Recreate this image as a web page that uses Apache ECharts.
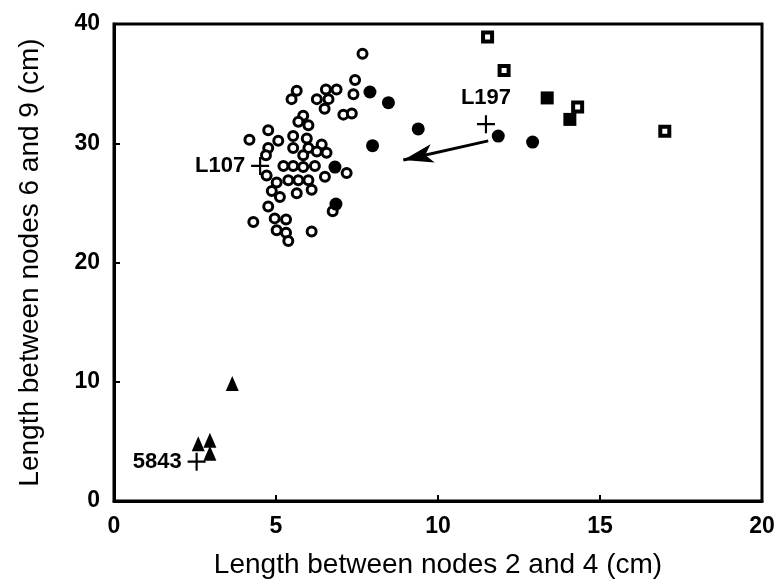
<!DOCTYPE html>
<html><head><meta charset="utf-8">
<script src="https://cdn.jsdelivr.net/npm/echarts@6/dist/echarts.min.js"></script>
<style>html,body{margin:0;padding:0;background:#fff}#c{width:781px;height:584px}</style>
</head><body><div id="c"></div>
<script>
const xTitle = 'Length between nodes 2 and 4 (cm)';
const yTitle = 'Length between nodes 6 and 9 (cm)';
const xRange = [0, 20, 5];
const yRange = [0, 40, 10];

const openCircles = [
  [7.67,37.5],[7.44,35.3],[7.39,34.1],[6.54,34.5],[6.87,34.5],[6.26,33.7],[6.62,33.7],
  [6.50,32.9],[7.08,32.4],[7.34,32.5],[5.64,34.4],[5.48,33.7],[5.84,32.3],[5.69,31.8],
  [6.00,31.5],[4.76,31.1],[4.18,30.3],[5.07,30.2],[4.76,29.6],[4.69,29.0],[5.53,30.6],
  [5.53,29.6],[5.95,30.4],[6.00,29.6],[6.41,29.9],[6.56,29.2],[6.26,29.3],[5.84,29.0],
  [5.23,28.1],[5.53,28.1],[5.84,28.0],[6.20,28.1],[4.71,27.3],[5.02,26.7],[5.38,26.9],
  [5.69,26.9],[6.00,26.9],[6.51,27.2],[7.18,27.5],[4.87,26.0],[5.12,25.5],[5.64,25.8],
  [6.10,26.1],[4.76,24.7],[4.96,23.7],[5.31,23.6],[5.02,22.7],[5.31,22.5],[5.38,21.8],
  [4.30,23.4],[6.10,22.6],[6.75,24.3]
];
const filledCircles = [
  [7.90,34.3],[8.47,33.4],[9.39,31.2],[7.98,29.8],[11.86,30.6],[12.92,30.1],[6.82,28.0],[6.85,24.9]
];
const openSquares = [[11.53,38.9],[12.04,36.1],[14.31,33.05],[17.0,31.0]];
const filledSquares = [[13.37,33.8],[14.07,32.0]];
const triangles = [[3.65,9.86],[2.60,4.8],[2.96,5.1],[2.96,4.0]];
const specimenNames = ['L107','L197','5843'];
const specimenPoints = [[4.51,28.1],[11.48,31.6],[2.55,3.3]];
const labelSides = ['left','top','left'];
const arrowFrom = [11.55,30.2];
const arrowTo = [8.93,28.6];

const FONT = 'Liberation Sans, Arial, Helvetica, sans-serif';
const chart = echarts.init(document.getElementById('c'), null, {renderer:'canvas'});
const cross = 'path://M-1.2,-10L1.2,-10L1.2,-1.2L10,-1.2L10,1.2L1.2,1.2L1.2,10L-1.2,10L-1.2,1.2L-10,1.2L-10,-1.2L-1.2,-1.2Z';

chart.setOption({
  animation:false,
  backgroundColor:'#fff',
  grid:{left:114,right:19,top:24,bottom:83,show:true,borderColor:'#000',borderWidth:3,backgroundColor:'transparent'},
  xAxis:{type:'value',min:xRange[0],max:xRange[1],interval:xRange[2],
    name:xTitle,nameLocation:'middle',nameGap:50,
    nameTextStyle:{fontSize:28,color:'#000',fontFamily:FONT},
    axisLine:{show:true,lineStyle:{color:'#000',width:3}},
    axisTick:{show:true,inside:true,length:6,lineStyle:{color:'#000',width:2}},
    axisLabel:{fontSize:23,color:'#000',fontFamily:FONT,fontWeight:'bold',margin:14},
    splitLine:{show:false}},
  yAxis:{type:'value',min:yRange[0],max:yRange[1],interval:yRange[2],
    name:yTitle,nameLocation:'middle',nameGap:70,
    nameTextStyle:{fontSize:28,color:'#000',fontFamily:FONT},
    axisLine:{show:true,lineStyle:{color:'#000',width:3}},
    axisTick:{show:true,inside:true,length:6,lineStyle:{color:'#000',width:2}},
    axisLabel:{fontSize:23,color:'#000',fontFamily:FONT,fontWeight:'bold',margin:14},
    splitLine:{show:false}},
  series:[
    {type:'scatter',data:openCircles,symbol:'circle',symbolSize:9,
      itemStyle:{color:'#fff',borderColor:'#000',borderWidth:3,opacity:1}},
    {type:'scatter',data:filledCircles,symbol:'circle',symbolSize:13,
      itemStyle:{color:'#000',opacity:1}},
    {type:'scatter',data:openSquares,symbol:'rect',symbolSize:9,
      itemStyle:{color:'#fff',borderColor:'#000',borderWidth:4,opacity:1}},
    {type:'scatter',data:filledSquares,symbol:'rect',symbolSize:13,
      itemStyle:{color:'#000',opacity:1}},
    {type:'scatter',data:triangles,symbol:'triangle',symbolSize:[13,15],
      itemStyle:{color:'#000',opacity:1}},
    {type:'scatter',symbol:cross,symbolSize:18,
      data:specimenPoints.map((p,i)=>({value:p,name:specimenNames[i],
        label:{show:true,position:labelSides[i],distance:labelSides[i]==='top'?6:6,formatter:specimenNames[i]}})),
      itemStyle:{color:'#000',opacity:1},
      label:{fontSize:22,color:'#000',fontFamily:FONT,fontWeight:'bold'},
      markLine:{silent:true,symbol:['none','arrow'],symbolSize:[14,30],
        lineStyle:{color:'#000',width:3,type:'solid'},label:{show:false},
        data:[[{coord:arrowFrom},{coord:arrowTo}]]}}
  ]
});
</script></body></html>
